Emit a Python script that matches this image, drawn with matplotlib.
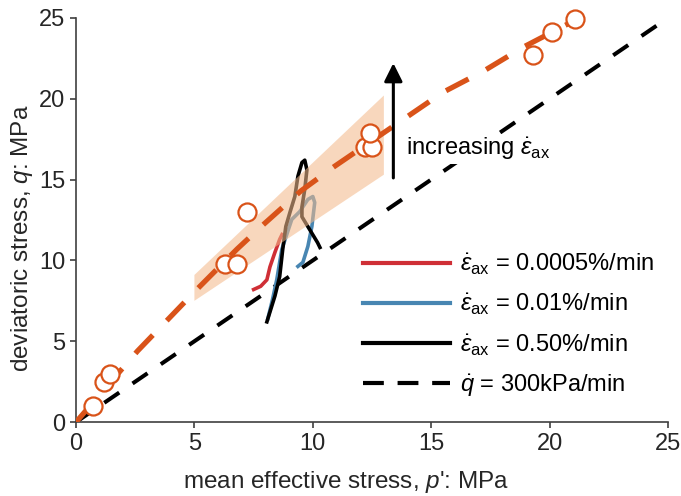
import matplotlib
matplotlib.use('Agg')
import matplotlib.pyplot as plt
from matplotlib.lines import Line2D

plt.rcParams['font.family'] = ['Liberation Sans', 'DejaVu Sans']
plt.rcParams['mathtext.fontset'] = 'custom'
plt.rcParams['mathtext.rm'] = 'Liberation Sans'
plt.rcParams['mathtext.it'] = 'Liberation Sans:italic'

# failure envelope (orange dashed) and test points
env_p = [0, 2.6, 5.1, 6.8, 7.9, 9.5, 10.9, 12.4, 13.9, 15.5, 17.2, 18.9, 21.0]
env_q = [0, 4.4, 8.2, 10.7, 12.2, 14.3, 15.8, 17.3, 18.8, 20.4, 21.7, 23.2, 24.8]
peak_p = [0.7, 1.2, 1.45, 6.3, 6.8, 7.2, 12.2, 12.5, 12.4, 19.3, 20.1, 21.05]
peak_q = [1.0, 2.5, 3.0, 9.75, 9.75, 13.0, 17.0, 17.0, 17.9, 22.7, 24.1, 24.9]

# shaded band
band_p = [5, 13, 13, 5]
band_q = [7.5, 15.3, 20.2, 9.1]

# reference path q = p
ref_p = [0, 25]
ref_q = [0, 25]

# stress paths
red_p = [7.5, 7.8, 8.06, 8.19, 8.4, 8.6, 8.7]
red_q = [8.2, 8.4, 8.8, 9.6, 10.5, 11.3, 11.6]
blue_p = [8.1, 8.3, 8.48, 8.69, 9.11, 9.45, 9.79, 10.0, 10.08, 9.96, 9.79, 9.58, 9.37]
blue_q = [6.4, 7.6, 8.83, 10.68, 12.53, 13.02, 13.77, 13.95, 13.58, 12.1, 10.86, 9.88, 9.63]
black_p = [8.06, 8.4, 8.6, 8.73, 8.86, 9.03, 9.24, 9.37, 9.54, 9.66, 9.75, 9.66, 9.54, 9.54, 9.87, 10.2, 10.3]
black_q = [6.2, 7.8, 9.0, 10.7, 12.1, 12.95, 13.95, 15.2, 16.05, 16.2, 15.6, 14.4, 13.3, 12.7, 11.9, 11.1, 10.8]

orange = '#D95319'
red = '#CF2F36'
blue = '#4886B2'
fs = 17

fig = plt.figure(figsize=(6.81, 4.96), dpi=100)
ax = fig.add_axes([0.1116, 0.149, 0.8694, 0.815])

ax.plot(ref_p, ref_q, color='black', lw=2.9, dashes=(4.5, 4), zorder=2)
ax.plot(red_p, red_q, color=red, lw=2.6, zorder=3)
ax.plot(blue_p, blue_q, color=blue, lw=2.6, zorder=3)
ax.plot(black_p, black_q, color='black', lw=2.6, zorder=3)
ax.fill(band_p, band_q, color='#F4BA8C', alpha=0.57, lw=0, zorder=4)
ax.plot(env_p, env_q, color=orange, lw=3.8, dashes=(4.8, 3.8), zorder=5)
ax.plot(peak_p, peak_q, 'o', ms=13, mfc='white', mec=orange, mew=1.6,
        zorder=6, clip_on=False)

ax.annotate('', xy=(13.4, 22.2), xytext=(13.4, 15.1),
            arrowprops=dict(arrowstyle='-|>,head_length=1.1,head_width=0.55',
                            color='black', lw=2.2, shrinkA=0, shrinkB=0), zorder=7)
ax.text(13.95, 16.9, r'increasing $\dot{\epsilon}_{\mathrm{ax}}$', fontsize=fs,
        va='center', ha='left', zorder=7,
        bbox=dict(facecolor='white', edgecolor='none', pad=1))

handles = [Line2D([], [], color=red, lw=3),
           Line2D([], [], color=blue, lw=3),
           Line2D([], [], color='black', lw=3),
           Line2D([], [], color='black', lw=3, dashes=(5, 3.3))]
labels = [r'$\dot{\epsilon}_{\mathrm{ax}}$ = 0.0005%/min',
          r'$\dot{\epsilon}_{\mathrm{ax}}$ = 0.01%/min',
          r'$\dot{\epsilon}_{\mathrm{ax}}$ = 0.50%/min',
          r'$\dot{q}$ = 300kPa/min']
ax.legend(handles, labels, loc='upper left', bbox_to_anchor=(0.465, 0.45),
          frameon=False, fontsize=fs, handlelength=3.7, handletextpad=0.4,
          labelspacing=0.62, borderpad=0)

ax.set_xlim(0, 25)
ax.set_ylim(0, 25)
ax.set_xticks([0, 5, 10, 15, 20, 25])
ax.set_yticks([0, 5, 10, 15, 20, 25])
for s in ['top', 'right']:
    ax.spines[s].set_visible(False)
for s in ['left', 'bottom']:
    ax.spines[s].set_color('#404040')
    ax.spines[s].set_linewidth(1.2)
ax.tick_params(direction='out', length=4, width=1.2, color='#404040',
               labelsize=fs, labelcolor='#262626')
ax.set_xlabel("mean effective stress, $p$': MPa", fontsize=17.5, color='#262626')
ax.set_ylabel('deviatoric stress, $q$: MPa', fontsize=17.5, color='#262626')
ax.xaxis.set_label_coords(0.456, -0.115)
ax.yaxis.set_label_coords(-0.07, 0.455)

fig.savefig('out.png', dpi=100)
